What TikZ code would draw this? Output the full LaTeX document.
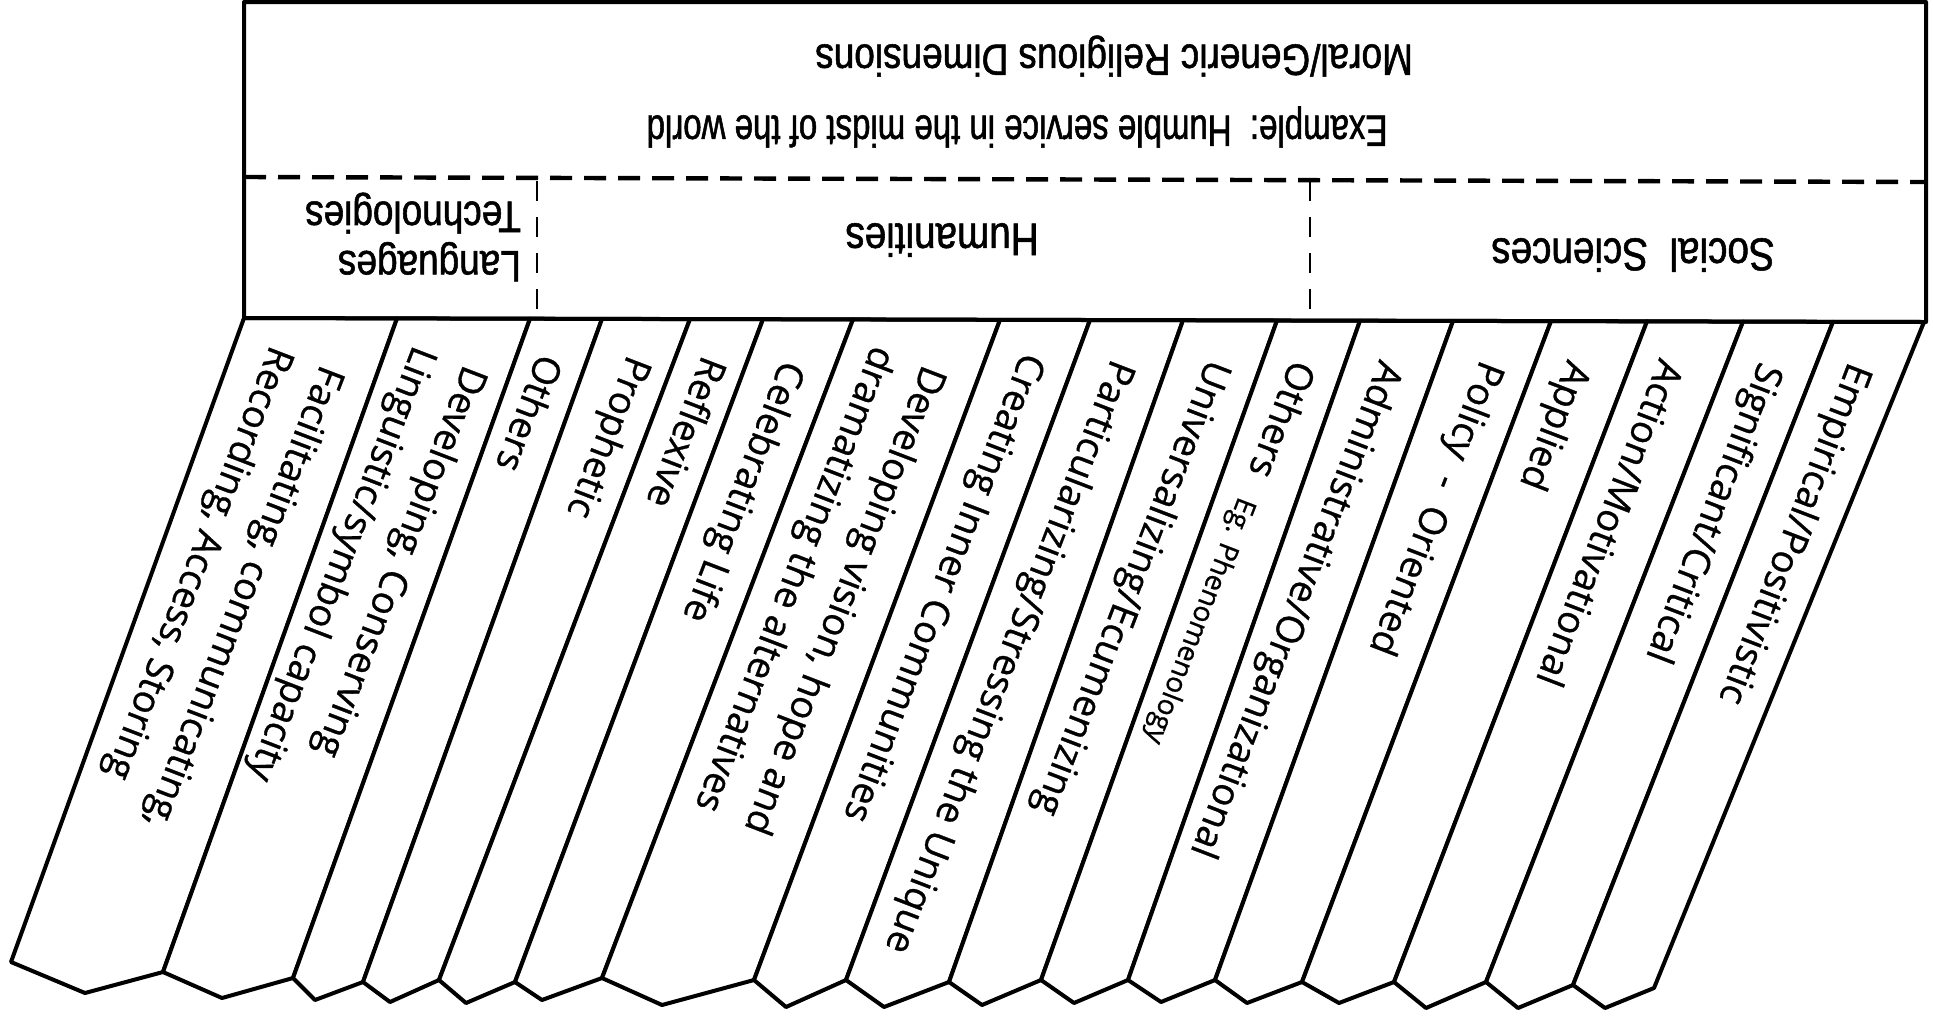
\documentclass[tikz,border=0pt]{standalone}
\usepackage{fontspec}
\newfontfamily\boxfont[FakeStretch=0.84,FakeBold=1.2]{Liberation Sans}
\newfontfamily\exfont[FakeStretch=0.75,FakeBold=1.2]{Liberation Sans}
\newfontfamily\stripfont[FakeBold=0.8]{Open Sans}
\begin{document}
\begin{tikzpicture}[x=0.5pt,y=-0.5pt,
  boxline/.style={line width=2pt, line join=round},
  dashline/.style={line width=2.2pt, dash pattern=on 11pt off 6pt},
  vdash/.style={line width=1.3pt, dash pattern=on 10pt off 8pt},
  stripbox/.style={draw, fill=white, line width=2pt, line join=round},
  boxtext/.style={rotate=180, inner sep=0pt, align=left},
  striptext/.style={rotate=-111, anchor=west, inner sep=0pt, align=left,
    font=\stripfont\fontsize{19}{27}\selectfont},
]
\useasboundingbox (0,0) rectangle (1933,1019);

% top box
\coordinate (boxTL) at (244,2);
\coordinate (boxTR) at (1926,2);
\coordinate (boxBL) at (244,318);
\coordinate (boxBR) at (1926,322);
\coordinate (dashL) at (244,177);
\coordinate (dashR) at (1926,182);
\coordinate (vA1) at (537,181);
\coordinate (vA2) at (537,318);
\coordinate (vB1) at (1310,181);
\coordinate (vB2) at (1310,320);

% strip tops
\coordinate (t0) at (244,318);
\coordinate (t1) at (397,318.4);
\coordinate (t2) at (530,318.7);
\coordinate (t3) at (602,318.9);
\coordinate (t4) at (690,319.1);
\coordinate (t5) at (763,319.2);
\coordinate (t6) at (853,319.4);
\coordinate (t7) at (1000,319.8);
\coordinate (t8) at (1090,320);
\coordinate (t9) at (1183,320.2);
\coordinate (t10) at (1277,320.5);
\coordinate (t11) at (1360,320.7);
\coordinate (t12) at (1453,320.9);
\coordinate (t13) at (1551,321.1);
\coordinate (t14) at (1647,321.3);
\coordinate (t15) at (1743,321.6);
\coordinate (t16) at (1833,321.8);
\coordinate (t17) at (1924,322);
% strip bottom corners
\coordinate (c0) at (11,962);
\coordinate (c1) at (163,972);
\coordinate (c2) at (293,978);
\coordinate (c3) at (363,982);
\coordinate (c4) at (439,980);
\coordinate (c5) at (515,982);
\coordinate (c6) at (602,978);
\coordinate (c7) at (754,980);
\coordinate (c8) at (846,980);
\coordinate (c9) at (949,982);
\coordinate (c10) at (1041,980);
\coordinate (c11) at (1128,980);
\coordinate (c12) at (1215,980);
\coordinate (c13) at (1302,982);
\coordinate (c14) at (1394,982);
\coordinate (c15) at (1486,982);
\coordinate (c16) at (1573,985);
\coordinate (c17) at (1654,988);
% V points
\coordinate (v1) at (85,993);
\coordinate (v2) at (222,998);
\coordinate (v3) at (315,1000);
\coordinate (v4) at (390,1002);
\coordinate (v5) at (466,1003);
\coordinate (v6) at (542,1000);
\coordinate (v7) at (662,1005);
\coordinate (v8) at (786,1007);
\coordinate (v9) at (884,1007);
\coordinate (v10) at (982,1005);
\coordinate (v11) at (1074,1003);
\coordinate (v12) at (1161,1002);
\coordinate (v13) at (1247,1003);
\coordinate (v14) at (1339,1003);
\coordinate (v15) at (1426,1008);
\coordinate (v16) at (1518,1008);
\coordinate (v17) at (1605,1008);

\foreach \i [evaluate=\i as \j using int(\i+1)] in {0,...,16}{
  \draw[stripbox] (t\i) -- (c\i) -- (v\j) -- (c\j) -- (t\j) -- cycle;
}

\draw[boxline] (boxBL) -- (boxTL) -- (boxTR) -- (boxBR) -- cycle;
\draw[dashline] (dashL) -- (dashR);
\draw[vdash] (vA1) -- (vA2);
\draw[vdash] (vB1) -- (vB2);

% top box texts
\node[boxtext, font=\boxfont\fontsize{22}{26}\selectfont] (moral) at (1114,56) {Moral/Generic Religious Dimensions};
\node[boxtext, font=\exfont\fontsize{22}{26}\selectfont] (example) at (1017,127) {Example:\ \ Humble service in the midst of the world};
\node[boxtext, font=\boxfont\fontsize{23}{26}\selectfont] (hum) at (942,240) {Humanities};
\node[boxtext, font=\boxfont\fontsize{23}{26}\selectfont] (soc) at (1633,255) {Social\ \ Sciences};
\node[boxtext, font=\boxfont\fontsize{22}{24.7}\selectfont] (lang) at (413,237) {Languages\\Technologies};

% strip texts
\node[striptext] (s1) at (305,357) {Facilitating,\ communicating,\\Recording,\ Access,\ Storing};
\node[striptext] (s2) at (448,357) {Developing,\ Conserving\\Linguistic/symbol\ capacity};
\node[striptext] (s3) at (552,357) {Others};
\node[striptext] (s4) at (637,357) {Prophetic};
\node[striptext] (s5) at (716,359) {Reflexive};
\node[striptext] (s6) at (791,362) {Celebrating Life};
\node[striptext] (s7) at (907,357) {Developing vision,\ hope and\\dramatizing the alternatives};
\node[striptext] (s8) at (1031,354) {Creating\ Inner\ Communities};
\node[striptext] (s9) at (1121,361) {Particularizing/Stressing the Unique};
\node[striptext] (s10) at (1217,361) {Universalizing/Ecumenizing};
\node[striptext] (s11) at (1302,362) {Others\hspace{13pt}{\fontsize{14}{14}\selectfont Eg. Phenomenology}};
\node[striptext] (s12) at (1389,362) {Administrative/Organizational};
\node[striptext] (s13) at (1490,362) {Policy\ \ -\ \ Oriented};
\node[striptext] (s14) at (1577,362) {Applied};
\node[striptext] (s15) at (1673,362) {Action/Motivational};
\node[striptext] (s16) at (1769,364) {Significant/Critical};
\node[striptext] (s17) at (1858,364) {Empirical/Positivistic};
\end{tikzpicture}
\end{document}
